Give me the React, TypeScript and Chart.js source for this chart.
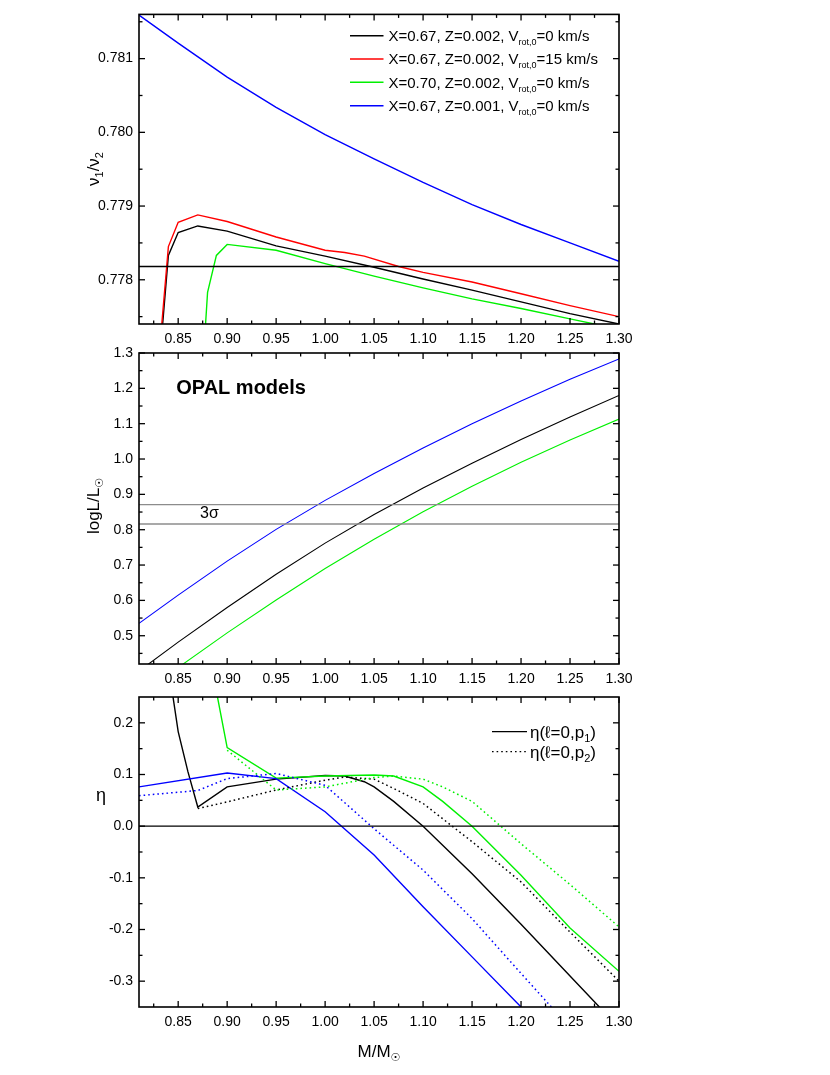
import React, { useEffect, useRef } from "react";
import { Chart, registerables } from "chart.js";

Chart.register(...registerables);

const FONT = "'Liberation Sans', Arial, Helvetica, 'DejaVu Sans', sans-serif";

// ---------- shared x axis: M/M_sun ----------
const X_MIN = 0.81;
const X_MAX = 1.3;
const xMajorTicks = [0.85, 0.9, 0.95, 1.0, 1.05, 1.1, 1.15, 1.2, 1.25, 1.3];
const xMinorTicks = [0.825, 0.875, 0.925, 0.975, 1.025, 1.075, 1.125, 1.175, 1.225, 1.275];

// ---------- panel 1: nu1/nu2 ----------
const ratioMin = 0.7774;
const ratioMax = 0.7816;
const ratioMajorTicks = [0.778, 0.779, 0.78, 0.781];
const ratioMinorTicks = [0.7775, 0.7785, 0.7795, 0.7805, 0.7815];
const ratioObservedMass = [0.81, 1.3];
const ratioObserved = [0.77818, 0.77818];

const massP1Black = [0.83, 0.84, 0.85, 0.87, 0.9, 0.95, 1.0, 1.05, 1.1, 1.15, 1.2, 1.25, 1.3];
const ratioP1Black = [0.77674, 0.77833, 0.77864, 0.77873, 0.77866, 0.77846, 0.77832, 0.77817, 0.77801, 0.77786, 0.7777, 0.77754, 0.7774];
const massP1Red = [0.83, 0.84, 0.85, 0.87, 0.9, 0.95, 1.0, 1.02, 1.04, 1.075, 1.1, 1.15, 1.2, 1.25, 1.3];
const ratioP1Red = [0.77689, 0.77845, 0.77878, 0.77888, 0.77879, 0.77858, 0.7784, 0.77837, 0.77832, 0.77818, 0.7781, 0.77797, 0.77781, 0.77765, 0.7775];
const massP1Green = [0.877, 0.88, 0.889, 0.9, 0.95, 1.0, 1.05, 1.1, 1.15, 1.2, 1.25, 1.3];
const ratioP1Green = [0.7772, 0.77783, 0.77833, 0.77848, 0.7784, 0.77822, 0.77805, 0.77789, 0.77774, 0.77761, 0.77747, 0.77733];
const massP1Blue = [0.81, 0.85, 0.9, 0.95, 1.0, 1.05, 1.1, 1.15, 1.2, 1.25, 1.3];
const ratioP1Blue = [0.78159, 0.78121, 0.78075, 0.78034, 0.77997, 0.77964, 0.77932, 0.77902, 0.77875, 0.7785, 0.77825];

const legendColors = ["#000000", "#ff0000", "#00f000", "#0000ff"];
const legendMain = ["X=0.67, Z=0.002, V", "X=0.67, Z=0.002, V", "X=0.70, Z=0.002, V", "X=0.67, Z=0.001, V"];
const legendSub = ["rot,0", "rot,0", "rot,0", "rot,0"];
const legendTail = ["=0 km/s", "=15 km/s", "=0 km/s", "=0 km/s"];

// ---------- panel 2: log L/L_sun ----------
const lumMin = 0.42;
const lumMax = 1.3;
const lumMajorTicks = [0.5, 0.6, 0.7, 0.8, 0.9, 1.0, 1.1, 1.2, 1.3];
const lumMinorTicks = [0.45, 0.55, 0.65, 0.75, 0.85, 0.95, 1.05, 1.15, 1.25];
const massP2 = [0.81, 0.85, 0.9, 0.95, 1.0, 1.05, 1.1, 1.15, 1.2, 1.25, 1.3];
const lumBlack = [0.4, 0.482, 0.58, 0.674, 0.762, 0.843, 0.918, 0.988, 1.055, 1.119, 1.18];
const lumGreen = [0.331, 0.41, 0.508, 0.601, 0.69, 0.773, 0.851, 0.923, 0.991, 1.054, 1.113];
const lumBlue = [0.535, 0.615, 0.711, 0.801, 0.883, 0.959, 1.031, 1.0995, 1.1645, 1.2255, 1.283];
const lumBandMass = [0.81, 1.3];
const lumUpper = [0.871, 0.871];
const lumLower = [0.816, 0.816];

// ---------- panel 3: eta ----------
const etaMin = -0.35;
const etaMax = 0.25;
const etaMajorTicks = [-0.3, -0.2, -0.1, 0.0, 0.1, 0.2];
const etaMinorTicks = [-0.25, -0.15, -0.05, 0.05, 0.15];
const etaZeroMass = [0.81, 1.3];
const etaZero = [0, 0];

const massEtaBlackP1 = [0.84, 0.85, 0.86, 0.87, 0.9, 0.95, 1.0, 1.02, 1.04, 1.05, 1.07, 1.1, 1.15, 1.2, 1.25, 1.3];
const etaBlackP1 = [0.31, 0.183, 0.105, 0.037, 0.076, 0.091, 0.098, 0.097, 0.086, 0.076, 0.048, 0.0, -0.092, -0.19, -0.29, -0.39];
const massEtaBlackP2 = [0.87, 0.9, 0.95, 1.0, 1.02, 1.05, 1.07, 1.1, 1.15, 1.2, 1.25, 1.3];
const etaBlackP2 = [0.034, 0.047, 0.07, 0.089, 0.095, 0.091, 0.073, 0.044, -0.03, -0.108, -0.205, -0.3];
const massEtaGreenP1 = [0.88, 0.9, 0.95, 1.0, 1.05, 1.07, 1.1, 1.12, 1.15, 1.2, 1.25, 1.3];
const etaGreenP1 = [0.35, 0.152, 0.093, 0.097, 0.099, 0.097, 0.076, 0.048, 0.0, -0.095, -0.197, -0.281];
const massEtaGreenP2 = [0.9, 0.95, 1.0, 1.05, 1.07, 1.1, 1.12, 1.15, 1.2, 1.25, 1.3];
const etaGreenP2 = [0.147, 0.07, 0.076, 0.094, 0.097, 0.091, 0.076, 0.048, -0.034, -0.113, -0.195];
const massEtaBlueP1 = [0.81, 0.9, 0.95, 1.0, 1.05, 1.1, 1.15, 1.2];
const etaBlueP1 = [0.076, 0.103, 0.092, 0.028, -0.056, -0.156, -0.253, -0.35];
const massEtaBlueP2 = [0.81, 0.87, 0.9, 0.95, 1.0, 1.05, 1.1, 1.15, 1.2, 1.25];
const etaBlueP2 = [0.059, 0.069, 0.092, 0.102, 0.079, -0.005, -0.085, -0.179, -0.285, -0.39];

const etaLegendMain = ["η(ℓ=0,p", "η(ℓ=0,p"];
const etaLegendSub = ["1", "2"];

// ---------- helpers ----------
const GREEN = "#00f000";
const BLUE = "#0000ff";
const RED = "#ff0000";
const BLACK = "#000000";
const DOT = [1.6, 3];

type Series = { x: number[]; y: number[]; color: string; width: number; dash?: number[] };

function ds(s: Series) {
  return {
    data: s.x.map((v, i) => ({ x: v, y: s.y[i] })),
    borderColor: s.color,
    backgroundColor: s.color,
    borderWidth: s.width,
    borderDash: s.dash || [],
    showLine: true,
    pointRadius: 0,
    pointHoverRadius: 0,
    tension: 0,
    fill: false,
  };
}

type Part = { t: string; sub?: boolean };

function richWidth(ctx: CanvasRenderingContext2D, parts: Part[], size: number, subSize: number) {
  let w = 0;
  for (const p of parts) {
    ctx.font = `${p.sub ? subSize : size}px ${FONT}`;
    w += ctx.measureText(p.t).width;
  }
  return w;
}

function drawRich(ctx: CanvasRenderingContext2D, parts: Part[], x: number, baseline: number, size: number, subSize: number, shift: number) {
  let cx = x;
  ctx.textBaseline = "alphabetic";
  ctx.textAlign = "left";
  for (const p of parts) {
    ctx.font = `${p.sub ? subSize : size}px ${FONT}`;
    ctx.fillText(p.t, cx, p.sub ? baseline + shift : baseline);
    cx += ctx.measureText(p.t).width;
  }
}

function drawRotatedRich(ctx: CanvasRenderingContext2D, parts: Part[], baseX: number, centerY: number, size: number, subSize: number, shift: number) {
  ctx.save();
  ctx.translate(baseX, centerY);
  ctx.rotate(-Math.PI / 2);
  const w = richWidth(ctx, parts, size, subSize);
  drawRich(ctx, parts, -w / 2, 0, size, subSize, shift);
  ctx.restore();
}

function line(ctx: CanvasRenderingContext2D, x1: number, y1: number, x2: number, y2: number) {
  ctx.beginPath();
  ctx.moveTo(x1, y1);
  ctx.lineTo(x2, y2);
  ctx.stroke();
}

const W = 830;
const AREA_LEFT = 139;
const AREA_RIGHT = 619;

type PanelSpec = {
  top: number;
  height: number;
  padTop: number;
  areaHeight: number;
  yMin: number;
  yMax: number;
  yMajor: number[];
  yMinor: number[];
  yDigits: number;
  datasets: any[];
  decorate: (ctx: CanvasRenderingContext2D, chart: any, top: number) => void;
};

function makeConfig(spec: PanelSpec): any {
  const xAxisHeight = spec.height - spec.padTop - spec.areaHeight;
  const tickFont = { family: FONT, size: 14 };
  return {
    type: "scatter",
    data: { datasets: spec.datasets },
    options: {
      responsive: false,
      animation: false,
      devicePixelRatio: 1,
      events: [],
      layout: { padding: { top: spec.padTop, right: W - AREA_RIGHT, left: 0, bottom: 0 } },
      plugins: { legend: { display: false }, tooltip: { enabled: false }, title: { display: false } },
      scales: {
        x: {
          type: "linear",
          bounds: "data",
          min: X_MIN,
          max: X_MAX,
          afterBuildTicks: (s: any) => {
            s.ticks = xMajorTicks.map((v) => ({ value: v }));
          },
          afterFit: (s: any) => {
            s.height = xAxisHeight;
          },
          ticks: {
            font: tickFont,
            color: "#000",
            padding: 7,
            maxRotation: 0,
            autoSkip: false,
            callback: (v: any) => Number(v).toFixed(2),
          },
          grid: { display: false, drawTicks: false },
          border: { display: false },
        },
        y: {
          type: "linear",
          bounds: "data",
          min: spec.yMin,
          max: spec.yMax,
          afterBuildTicks: (s: any) => {
            s.ticks = spec.yMajor.map((v) => ({ value: v }));
          },
          afterFit: (s: any) => {
            s.width = AREA_LEFT;
          },
          ticks: {
            font: tickFont,
            color: "#000",
            padding: 6,
            autoSkip: false,
            callback: (v: any) => Number(v).toFixed(spec.yDigits),
          },
          grid: { display: false, drawTicks: false },
          border: { display: false },
        },
      },
    },
    plugins: [
      {
        id: "frameDecor",
        afterDraw(chart: any) {
          const ctx: CanvasRenderingContext2D = chart.ctx;
          const { left, right, top, bottom } = chart.chartArea;
          const xs = chart.scales.x;
          const ys = chart.scales.y;
          ctx.save();
          ctx.strokeStyle = "#000";
          ctx.lineWidth = 1.3;
          ctx.setLineDash([]);
          for (const v of xMajorTicks) {
            const p = xs.getPixelForValue(v);
            line(ctx, p, bottom, p, bottom - 6);
            line(ctx, p, top, p, top + 6);
          }
          for (const v of xMinorTicks) {
            const p = xs.getPixelForValue(v);
            line(ctx, p, bottom, p, bottom - 3.5);
            line(ctx, p, top, p, top + 3.5);
          }
          for (const v of spec.yMajor) {
            const p = ys.getPixelForValue(v);
            line(ctx, left, p, left + 6, p);
            line(ctx, right, p, right - 6, p);
          }
          for (const v of spec.yMinor) {
            const p = ys.getPixelForValue(v);
            line(ctx, left, p, left + 3.5, p);
            line(ctx, right, p, right - 3.5, p);
          }
          ctx.lineWidth = 1.6;
          ctx.strokeRect(left, top, right - left, bottom - top);
          ctx.fillStyle = "#000";
          spec.decorate(ctx, chart, spec.top);
          ctx.restore();
        },
      },
    ],
  };
}

const panels: PanelSpec[] = [
  {
    top: 0,
    height: 350,
    padTop: 14,
    areaHeight: 310,
    yMin: ratioMin,
    yMax: ratioMax,
    yMajor: ratioMajorTicks,
    yMinor: ratioMinorTicks,
    yDigits: 3,
    datasets: [
      ds({ x: ratioObservedMass, y: ratioObserved, color: BLACK, width: 1.3 }),
      ds({ x: massP1Blue, y: ratioP1Blue, color: BLUE, width: 1.4 }),
      ds({ x: massP1Green, y: ratioP1Green, color: GREEN, width: 1.4 }),
      ds({ x: massP1Red, y: ratioP1Red, color: RED, width: 1.4 }),
      ds({ x: massP1Black, y: ratioP1Black, color: BLACK, width: 1.4 }),
    ],
    decorate: (ctx, chart, top) => {
      const rows = [35.7, 59, 82.3, 105.7];
      for (let i = 0; i < rows.length; i++) {
        const y = rows[i] - top;
        ctx.strokeStyle = legendColors[i];
        ctx.lineWidth = 1.4;
        line(ctx, 350, y, 383.5, y);
        ctx.fillStyle = "#000";
        drawRich(
          ctx,
          [{ t: legendMain[i] }, { t: legendSub[i], sub: true }, { t: legendTail[i] }],
          388.5,
          y + 5.3,
          15,
          9,
          4
        );
      }
      ctx.fillStyle = "#000";
      drawRotatedRich(
        ctx,
        [{ t: "ν" }, { t: "1", sub: true }, { t: "/ν" }, { t: "2", sub: true }],
        99,
        169 - top,
        17,
        11,
        4
      );
    },
  },
  {
    top: 335,
    height: 355,
    padTop: 18,
    areaHeight: 311,
    yMin: lumMin,
    yMax: lumMax,
    yMajor: lumMajorTicks,
    yMinor: lumMinorTicks,
    yDigits: 1,
    datasets: [
      ds({ x: lumBandMass, y: lumUpper, color: "#8c8c8c", width: 1.4 }),
      ds({ x: lumBandMass, y: lumLower, color: "#8c8c8c", width: 1.4 }),
      ds({ x: massP2, y: lumBlue, color: BLUE, width: 1.1 }),
      ds({ x: massP2, y: lumBlack, color: BLACK, width: 1.1 }),
      ds({ x: massP2, y: lumGreen, color: GREEN, width: 1.1 }),
    ],
    decorate: (ctx, chart, top) => {
      const xs = chart.scales.x;
      const ys = chart.scales.y;
      ctx.fillStyle = "#000";
      ctx.font = `bold 20px ${FONT}`;
      ctx.textAlign = "left";
      ctx.textBaseline = "middle";
      ctx.fillText("OPAL models", xs.getPixelForValue(0.848), ys.getPixelForValue(1.2));
      ctx.font = `16px ${FONT}`;
      ctx.textAlign = "center";
      ctx.fillText("3σ", 209.5, 514 - top);
      drawRotatedRich(ctx, [{ t: "logL/L" }, { t: "☉", sub: true }], 99, 506 - top, 17, 11, 4);
    },
  },
  {
    top: 676,
    height: 399,
    padTop: 21,
    areaHeight: 310,
    yMin: etaMin,
    yMax: etaMax,
    yMajor: etaMajorTicks,
    yMinor: etaMinorTicks,
    yDigits: 1,
    datasets: [
      ds({ x: etaZeroMass, y: etaZero, color: BLACK, width: 1.4 }),
      ds({ x: massEtaBlueP2, y: etaBlueP2, color: BLUE, width: 1.5, dash: DOT }),
      ds({ x: massEtaGreenP2, y: etaGreenP2, color: GREEN, width: 1.5, dash: DOT }),
      ds({ x: massEtaBlackP2, y: etaBlackP2, color: BLACK, width: 1.5, dash: DOT }),
      ds({ x: massEtaBlueP1, y: etaBlueP1, color: BLUE, width: 1.4 }),
      ds({ x: massEtaGreenP1, y: etaGreenP1, color: GREEN, width: 1.4 }),
      ds({ x: massEtaBlackP1, y: etaBlackP1, color: BLACK, width: 1.4 }),
    ],
    decorate: (ctx, chart, top) => {
      const rows = [731.7, 751.7];
      for (let i = 0; i < rows.length; i++) {
        const y = rows[i] - top;
        ctx.strokeStyle = "#000";
        ctx.lineWidth = 1.3;
        ctx.setLineDash(i === 0 ? [] : DOT);
        line(ctx, 492, y, 527, y);
        ctx.setLineDash([]);
        ctx.fillStyle = "#000";
        drawRich(ctx, [{ t: etaLegendMain[i] }, { t: etaLegendSub[i], sub: true }, { t: ")" }], 530, y + 6, 17, 11, 4);
      }
      ctx.fillStyle = "#000";
      ctx.font = `18px ${FONT}`;
      ctx.textAlign = "center";
      ctx.textBaseline = "alphabetic";
      ctx.fillText("η", 101, 801 - top);
      // x-axis title
      const parts: Part[] = [{ t: "M/M" }, { t: "☉", sub: true }];
      const w = richWidth(ctx, parts, 17, 11);
      drawRich(ctx, parts, 379 - w / 2, 1057 - top, 17, 11, 4);
    },
  },
];

function Panel({ spec }: { spec: PanelSpec }) {
  const ref = useRef<HTMLCanvasElement | null>(null);
  useEffect(() => {
    if (!ref.current) return;
    const chart = new Chart(ref.current, makeConfig(spec));
    return () => chart.destroy();
  }, [spec]);
  return (
    <canvas
      ref={ref}
      width={W}
      height={spec.height}
      style={{ position: "absolute", left: 0, top: spec.top, width: W, height: spec.height }}
    />
  );
}

export default function App() {
  return (
    <div style={{ position: "absolute", left: 0, top: 0, width: W, height: 1075, background: "#fff" }}>
      {panels.map((p, i) => (
        <Panel key={i} spec={p} />
      ))}
    </div>
  );
}
